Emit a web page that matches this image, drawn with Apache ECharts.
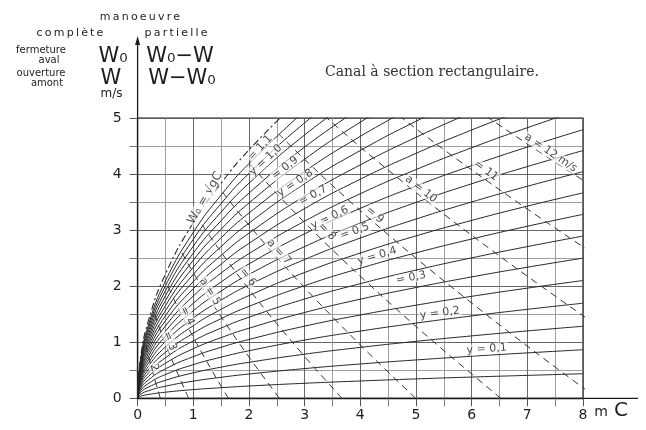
<!DOCTYPE html>
<html><head><meta charset="utf-8">
<script src="https://cdn.jsdelivr.net/npm/echarts@6/dist/echarts.min.js"></script>
<style>html,body{margin:0;padding:0;background:#fff}#c{width:646px;height:430px}</style>
</head><body><div id="c"></div>
<script>
// ---- data ----
const xTicks = [0, 1, 2, 3, 4, 5, 6, 7, 8];
const yTicks = [0, 1, 2, 3, 4, 5];
// depth C (m) at which each solid curve was read
const cSamples = [0, 0.05, 0.2, 0.5, 1, 1.5, 2, 3, 4, 5, 6, 7, 8];
// relative surge height y of each solid curve
const yLevels = [0.05, 0.10, 0.15, 0.20, 0.25, 0.30, 0.35, 0.40, 0.45, 0.50, 0.55,
                 0.60, 0.65, 0.70, 0.75, 0.80, 0.85, 0.90, 0.95, 1.00, 1.05, 1.10];
// velocity W (m/s) at cSamples
const wCurves = [
  [0, 0.035, 0.069, 0.109, 0.155, 0.189, 0.219, 0.268, 0.309, 0.346, 0.379, 0.409, 0.438],
  [0, 0.068, 0.137, 0.216, 0.306, 0.375, 0.433, 0.530, 0.612, 0.684, 0.750, 0.810, 0.866],
  [0, 0.102, 0.203, 0.321, 0.454, 0.556, 0.642, 0.787, 0.908, 1.016, 1.113, 1.202, 1.285],
  [0, 0.134, 0.268, 0.424, 0.600, 0.734, 0.848, 1.039, 1.199, 1.341, 1.469, 1.587, 1.696],
  [0, 0.166, 0.332, 0.525, 0.743, 0.910, 1.050, 1.287, 1.486, 1.661, 1.819, 1.965, 2.101],
  [0, 0.198, 0.395, 0.625, 0.884, 1.082, 1.250, 1.531, 1.768, 1.976, 2.165, 2.338, 2.500],
  [0, 0.229, 0.457, 0.723, 1.023, 1.253, 1.446, 1.771, 2.045, 2.287, 2.505, 2.706, 2.893],
  [0, 0.259, 0.519, 0.820, 1.160, 1.421, 1.640, 2.009, 2.320, 2.594, 2.841, 3.069, 3.281],
  [0, 0.290, 0.579, 0.916, 1.296, 1.587, 1.832, 2.244, 2.591, 2.897, 3.173, 3.428, 3.664],
  [0, 0.320, 0.639, 1.011, 1.430, 1.751, 2.022, 2.476, 2.859, 3.197, 3.502, 3.782, 4.043],
  [0, 0.349, 0.699, 1.105, 1.562, 1.913, 2.210, 2.706, 3.125, 3.494, 3.827, 4.134, 4.419],
  [0, 0.379, 0.758, 1.198, 1.694, 2.075, 2.396, 2.934, 3.388, 3.788, 4.149, 4.482, 4.791],
  [0, 0.408, 0.816, 1.290, 1.824, 2.234, 2.580, 3.160, 3.649, 4.080, 4.469, 4.827, 5.160],
  [0, 0.437, 0.874, 1.382, 1.954, 2.393, 2.763, 3.384, 3.908, 4.369, 4.786, 5.169],
  [0, 0.466, 0.931, 1.472, 2.082, 2.550, 2.945, 3.607, 4.164, 4.656, 5.100],
  [0, 0.494, 0.988, 1.563, 2.210, 2.706, 3.125, 3.828, 4.420, 4.941, 5.413],
  [0, 0.522, 1.045, 1.652, 2.337, 2.862, 3.304, 4.047, 4.673, 5.225],
  [0, 0.551, 1.101, 1.741, 2.463, 3.016, 3.483, 4.265, 4.925, 5.507],
  [0, 0.579, 1.157, 1.830, 2.588, 3.169, 3.660, 4.482, 5.176],
  [0, 0.607, 1.213, 1.918, 2.713, 3.322, 3.836, 4.698, 5.425],
  [0, 0.634, 1.268, 2.006, 2.837, 3.474, 4.011, 4.913, 5.673],
  [0, 0.662, 1.324, 2.093, 2.960, 3.625, 4.186, 5.127]
];
// limit curve W0 = sqrt(gC) (dash-dot)
const wLimit = [0, 0.700, 1.401, 2.215, 3.132, 3.836, 4.429, 5.425];
// celerity a (m/s) of each dashed line
const aLevels = [2, 3, 4, 5, 6, 7, 8, 9, 10, 11, 12];
// dashed lines: C and W
const aC = [
  [0.408, 0.353, 0.309, 0.273, 0.243, 0.217, 0.196, 0.178, 0.162, 0.136, 0.125],
  [0.917, 0.794, 0.695, 0.614, 0.546, 0.489, 0.441, 0.400, 0.364, 0.306, 0.282],
  [1.631, 1.412, 1.236, 1.091, 0.971, 0.870, 0.784, 0.711, 0.647, 0.544, 0.501],
  [2.548, 2.206, 1.931, 1.705, 1.517, 1.359, 1.225, 1.110, 1.011, 0.849, 0.783],
  [3.670, 3.177, 2.780, 2.455, 2.184, 1.957, 1.764, 1.599, 1.456, 1.223, 1.127],
  [4.995, 4.324, 3.784, 3.341, 2.973, 2.664, 2.401, 2.176, 1.982, 1.665, 1.535],
  [6.524, 5.648, 4.942, 4.364, 3.883, 3.479, 3.136, 2.843, 2.589, 2.175, 2.004],
  [8.257, 7.149, 6.255, 5.523, 4.915, 4.404, 3.970, 3.598, 3.277, 2.752, 2.537],
  [10.194, 8.825, 7.723, 6.818, 6.068, 5.437, 4.901, 4.442, 4.045, 3.398, 3.132],
  [12.334, 10.679, 9.344, 8.250, 7.342, 6.578, 5.930, 5.374, 4.895, 4.111, 3.789],
  [14.679, 12.708, 11.121, 9.819, 8.737, 7.829, 7.057, 6.396, 5.825, 4.893, 4.510]
];
const aW = [
  [0, 0.182, 0.333, 0.462, 0.571, 0.667, 0.750, 0.824, 0.889, 1.000, 1.048],
  [0, 0.273, 0.500, 0.692, 0.857, 1.000, 1.125, 1.235, 1.333, 1.500, 1.571],
  [0, 0.364, 0.667, 0.923, 1.143, 1.333, 1.500, 1.647, 1.778, 2.000, 2.095],
  [0, 0.455, 0.833, 1.154, 1.429, 1.667, 1.875, 2.059, 2.222, 2.500, 2.619],
  [0, 0.545, 1.000, 1.385, 1.714, 2.000, 2.250, 2.471, 2.667, 3.000, 3.143],
  [0, 0.636, 1.167, 1.615, 2.000, 2.333, 2.625, 2.882, 3.111, 3.500, 3.667],
  [0, 0.727, 1.333, 1.846, 2.286, 2.667, 3.000, 3.294, 3.556, 4.000, 4.190],
  [0, 0.818, 1.500, 2.077, 2.571, 3.000, 3.375, 3.706, 4.000, 4.500, 4.714],
  [0, 0.909, 1.667, 2.308, 2.857, 3.333, 3.750, 4.118, 4.444, 5.000, 5.238],
  [0, 1.000, 1.833, 2.538, 3.143, 3.667, 4.125, 4.529, 4.889, 5.500, 5.762],
  [0, 1.091, 2.000, 2.769, 3.429, 4.000, 4.500, 4.941, 5.333, 6.000, 6.286]
];
// curve labels
const yLabelTexts = ['y = 0,1', 'y = 0,2', '= 0,3', 'y = 0,4', '= 0,5', 'y = 0,6', '= 0,7', 'y = 0,8', '= 0,9', 'y = 1,0', '= 1,1'];
const aLabelTexts = ['2', '= 3', '= 4', 'a = 5', '= 6', 'a = 7', '= 8', '= 9', 'a = 10', '= 11', 'a = 12 m/s'];
const limitLabelText = 'W\u2080 = \u221AgC';

// ---- annotation placement (not data) ----
const yLabelPlace = [[6.27,0.88,4],[5.43,1.52,7],[4.91,2.15,11],[4.3,2.54,16],[3.9,2.98,20],[3.45,3.22,25],[3.15,3.62,29],[2.83,3.84,34],[2.65,4.11,38],[2.3,4.25,43],[2.2,4.47,47]];
const aLabelPlace = [[0.30,0.55,-74],[0.58,1.02,-68],[0.89,1.47,-64],[1.30,1.9,-58],[1.98,2.16,-52],[2.54,2.61,-48],[3.40,2.97,-45],[4.26,3.27,-41],[5.09,3.73,-38],[6.26,4.06,-36],[7.42,4.38,-34]];
const limitLabelPlace = [1.21, 3.57, 60];

const FONT = 'DejaVu Sans';
const chart = echarts.init(document.getElementById('c'), null, {renderer: 'canvas'});

const series = [];
wCurves.forEach((ws, i) => {
  series.push({
    type: 'line', name: 'y' + yLevels[i], data: ws.map((w, j) => [cSamples[j], w]),
    smooth: 0.5, showSymbol: false, silent: true, clip: true,
    lineStyle: {color: '#262626', width: 1}, z: 3
  });
});
series.push({
  type: 'line', name: 'limit', data: wLimit.map((w, j) => [cSamples[j], w]),
  smooth: 0.5, showSymbol: false, silent: true, clip: true,
  lineStyle: {color: '#262626', width: 1.1, type: [7, 3, 2, 3]}, z: 3
});
aLevels.forEach((a, i) => {
  series.push({
    type: 'line', name: 'a' + a, data: aC[i].map((c, j) => [c, aW[i][j]]),
    smooth: 0.3, showSymbol: false, silent: true, clip: true,
    lineStyle: {color: '#333', width: 1, type: [7, 5]}, z: 3
  });
});
const labelStyle = {show: true, position: 'inside', color: '#1a1a1a', fontSize: 11, fontFamily: FONT,
  backgroundColor: 'rgba(255,255,255,0.8)', padding: [0, 1]};
const labelData = [];
yLabelTexts.forEach((t, i) => labelData.push({value: [yLabelPlace[i][0], yLabelPlace[i][1]], label: Object.assign({}, labelStyle, {formatter: t, rotate: yLabelPlace[i][2]})}));
aLabelTexts.forEach((t, i) => labelData.push({value: [aLabelPlace[i][0], aLabelPlace[i][1]], label: Object.assign({}, labelStyle, {formatter: t, rotate: aLabelPlace[i][2]})}));
labelData.push({value: [limitLabelPlace[0], limitLabelPlace[1]], label: Object.assign({}, labelStyle, {formatter: limitLabelText, rotate: limitLabelPlace[2], fontSize: 12})});
series.push({type: 'scatter', data: labelData, symbolSize: 1, itemStyle: {color: 'rgba(0,0,0,0)'}, silent: true, z: 10, clip: false});

const axisCommon = {
  type: 'value', interval: 1,
  axisLine: {show: true, onZero: false, lineStyle: {color: '#1a1a1a', width: 1.3}},
  axisTick: {show: true, length: 8, lineStyle: {color: '#555'}},
  minorTick: {show: true, splitNumber: 2, length: 8, lineStyle: {color: '#777'}},
  splitLine: {show: true, lineStyle: {color: '#555', width: 0.9}},
  minorSplitLine: {show: true, lineStyle: {color: '#888', width: 0.8}},
  axisLabel: {color: '#1e1e1e', fontSize: 14, fontFamily: FONT}
};

chart.setOption({
  animation: false,
  backgroundColor: '#fff',
  grid: {left: 137.6, right: 63, top: 118, bottom: 31.7, show: true, borderColor: '#1a1a1a', borderWidth: 1.2},
  xAxis: Object.assign({}, axisCommon, {min: xTicks[0], max: xTicks[xTicks.length - 1],
    axisLabel: Object.assign({}, axisCommon.axisLabel, {margin: 10})}),
  yAxis: Object.assign({}, axisCommon, {min: yTicks[0], max: yTicks[yTicks.length - 1],
    axisLabel: Object.assign({}, axisCommon.axisLabel, {margin: 16})}),
  series: series
});

// decorations positioned from the axes
const o = chart.convertToPixel({gridIndex: 0}, [0, 0]);
const e = chart.convertToPixel({gridIndex: 0}, [8, 5]);
const txt = (x, y, text, size, extra) => ({type: 'text', x: x, y: y, silent: true,
  style: Object.assign({text: text, fill: '#1e1e1e', font: size + 'px "' + FONT + '"', textAlign: 'center', textVerticalAlign: 'middle'}, extra || {})});
const ts = '\u2009';
chart.setOption({
  graphic: [
    {type: 'line', silent: true, shape: {x1: o[0], y1: e[1], x2: o[0], y2: 40}, style: {stroke: '#1a1a1a', lineWidth: 1.3}},
    {type: 'polygon', silent: true, shape: {points: [[o[0], 36], [o[0] - 2.5, 45], [o[0] + 2.5, 45]]}, style: {fill: '#1a1a1a'}},
    {type: 'line', silent: true, shape: {x1: e[0], y1: o[1], x2: e[0] + 55, y2: o[1]}, style: {stroke: '#1a1a1a', lineWidth: 1.3}},
    txt(e[0] + 18, o[1] + 14, 'm', 14),
    txt(e[0] + 38, o[1] + 12, 'C', 20),
    txt(o[0] - 26, 94, 'm/s', 12),
    txt(140, 17, ['m','a','n','o','e','u','v','r','e'].join(ts), 11),
    txt(70, 33, ['c','o','m','p','l','è','t','e'].join(ts), 11),
    txt(176, 33, ['p','a','r','t','i','e','l','l','e'].join(ts), 11),
    txt(41, 50, 'fermeture', 10),
    txt(49, 60, 'aval', 10),
    txt(41, 73, 'ouverture', 10),
    txt(47, 83, 'amont', 10),
    txt(113, 57, 'W\u2080', 21),
    txt(180, 57, 'W\u2080\u2212W', 21),
    txt(111, 79, 'W', 21),
    txt(182, 79, 'W\u2212W\u2080', 21),
    txt(432, 72, 'Canal à section rectangulaire.', 14, {font: '14px "DejaVu Serif"', fill: '#333'})
  ]
});
</script></body></html>
